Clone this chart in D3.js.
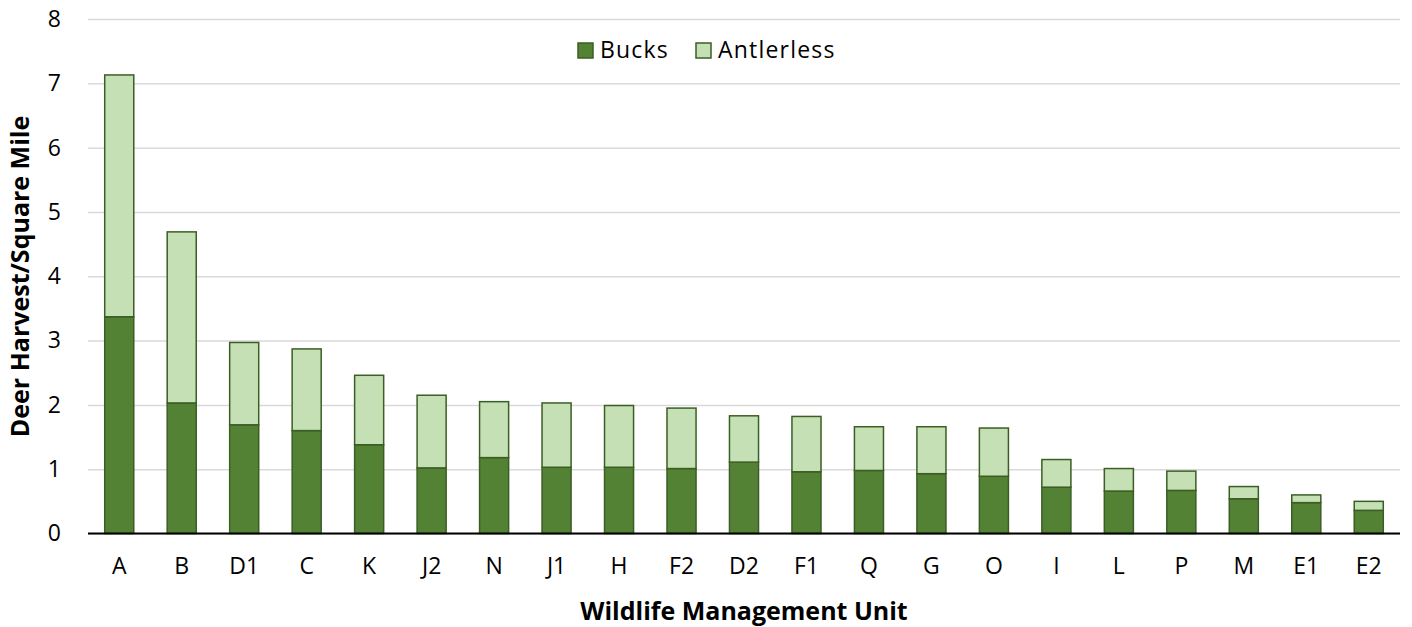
<!DOCTYPE html>
<html>
<head>
<meta charset="utf-8">
<script src="https://cdn.jsdelivr.net/npm/d3@7"></script>
<style>
  body { margin: 0; background: #fff; }
  svg text { font-family: "Open Sans", "Liberation Sans", Arial, sans-serif; fill: #000; }
</style>
</head>
<body>
<svg id="chart" width="1412" height="627"></svg>
<script>
//
// Data
//
var units = ['A', 'B', 'D1', 'C', 'K', 'J2', 'N', 'J1', 'H', 'F2', 'D2', 'F1', 'Q', 'G', 'O', 'I', 'L', 'P', 'M', 'E1', 'E2']
var bucks = [3.37, 2.03, 1.69, 1.60, 1.38, 1.02, 1.18, 1.03, 1.03, 1.01, 1.11, 0.96, 0.98, 0.93, 0.89, 0.72, 0.66, 0.67, 0.54, 0.48, 0.36]
var totals = [7.13, 4.69, 2.97, 2.87, 2.46, 2.15, 2.05, 2.03, 1.99, 1.95, 1.83, 1.82, 1.66, 1.66, 1.64, 1.15, 1.01, 0.97, 0.73, 0.60, 0.50]
var antlerless = totals.map(function (t, i) { return +(t - bucks[i]).toFixed(2) })
var yTicks = [0, 1, 2, 3, 4, 5, 6, 7, 8]
var seriesNames = ['Bucks', 'Antlerless']

//
// Config
//
var colorBucks = '#548235'
var colorAntlerless = '#c5e0b4'
var colorEdge = '#3b5e25'
var colorGrid = '#d9d9d9'

var margin = { left: 88, right: 12, top: 19, bottom: 93 }
var width = 1412, height = 627

var svg = d3.select('#chart')

var x = d3.scaleBand()
  .domain(units)
  .range([margin.left, width - margin.right])
  .paddingInner(0.535)
  .paddingOuter(0.2675)

var y = d3.scaleLinear()
  .domain([0, 8])
  .range([height - margin.bottom - 0.5, margin.top])

var rows = units.map(function (u, i) {
  return { unit: u, Bucks: bucks[i], Antlerless: antlerless[i] }
})
var stacked = d3.stack().keys(seriesNames)(rows)

// gridlines
svg.append('g')
  .attr('transform', 'translate(' + margin.left + ',0)')
  .call(d3.axisLeft(y).tickValues(yTicks).tickSize(-(width - margin.left - margin.right)).tickFormat(''))
  .call(function (g) { g.select('.domain').remove() })
  .selectAll('line')
  .attr('stroke', colorGrid)
  .attr('stroke-width', 1.5)

// y tick labels
svg.append('g')
  .attr('transform', 'translate(61,0)')
  .call(d3.axisLeft(y).tickValues(yTicks).tickSize(0).tickPadding(0))
  .call(function (g) { g.select('.domain').remove() })
  .selectAll('text')
  .style('font-size', '23px')

// bars
var colors = { Bucks: colorBucks, Antlerless: colorAntlerless }
svg.append('g').selectAll('g')
  .data(stacked)
  .join('g')
  .attr('fill', function (d) { return colors[d.key] })
  .selectAll('rect')
  .data(function (d) { return d })
  .join('rect')
  .attr('x', function (d) { return x(d.data.unit) })
  .attr('width', x.bandwidth())
  .attr('y', function (d) { return y(d[1]) })
  .attr('height', function (d) { return y(d[0]) - y(d[1]) })
  .attr('stroke', colorEdge)
  .attr('stroke-width', 1.5)

// x axis
var xAxis = svg.append('g')
  .attr('transform', 'translate(0,' + y(0) + ')')
  .call(d3.axisBottom(x).tickSize(0).tickPadding(24))
xAxis.select('.domain')
  .attr('stroke', '#000')
  .attr('stroke-width', 2)
  .attr('d', 'M' + margin.left + ',0H' + (width - margin.right))
xAxis.selectAll('text').style('font-size', '23px')

// axis titles
svg.append('text')
  .attr('x', (margin.left + width - margin.right) / 2)
  .attr('y', 620)
  .attr('text-anchor', 'middle')
  .style('font-size', '25px')
  .style('font-weight', 'bold')
  .text('Wildlife Management Unit')

svg.append('text')
  .attr('transform', 'translate(29,' + (height - margin.bottom + margin.top) / 2 + ') rotate(-90)')
  .attr('text-anchor', 'middle')
  .style('font-size', '25px')
  .style('font-weight', 'bold')
  .text('Deer Harvest/Square Mile')

// legend
var legend = svg.append('g').attr('transform', 'translate(578,43)')
var legendX = [0, 118]
seriesNames.forEach(function (name, i) {
  var item = legend.append('g').attr('transform', 'translate(' + legendX[i] + ',0)')
  item.append('rect')
    .attr('width', 15).attr('height', 15)
    .attr('fill', colors[name])
    .attr('stroke', colorEdge)
    .attr('stroke-width', 1.5)
  item.append('text')
    .attr('x', 22).attr('y', 15)
    .style('font-size', '23px')
    .style('letter-spacing', '1.2px')
    .text(name)
})
</script>
</body>
</html>
